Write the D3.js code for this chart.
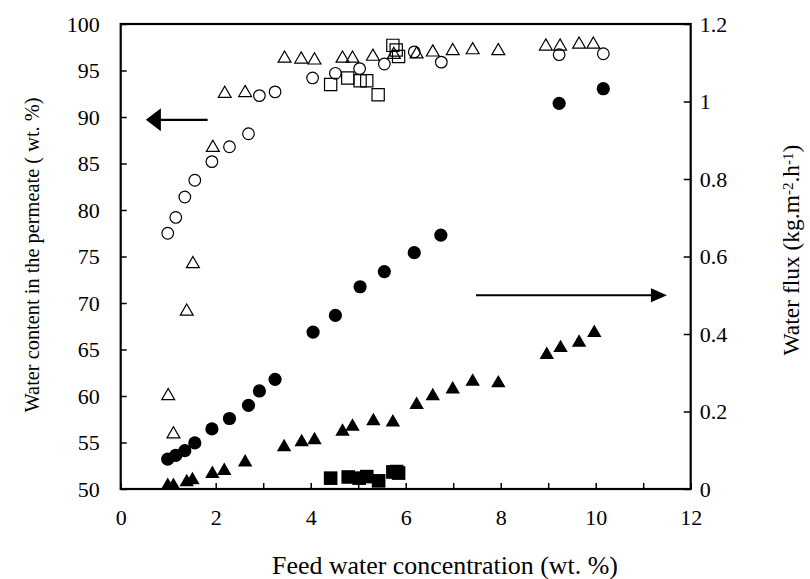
<!DOCTYPE html>
<html>
<head>
<meta charset="utf-8">
<script src="https://cdn.jsdelivr.net/npm/d3@7"></script>
<style>
  body { margin: 0; background: #fff; }
  svg text { font-family: 'Liberation Serif', 'DejaVu Serif', serif; }
</style>
</head>
<body>
<svg id="chart" width="810" height="579"></svg>
<script>
// water content (left axis, wt. %)
const openCircleX = [0.99, 1.16, 1.35, 1.56, 1.92, 2.29, 2.69, 2.92, 3.25, 4.04, 4.52, 5.03, 5.55, 6.18, 6.75, 9.23, 10.16];
const openCircleY = [77.5, 79.2, 81.4, 83.2, 85.2, 86.8, 88.2, 92.3, 92.7, 94.2, 94.7, 95.2, 95.7, 97.0, 95.9, 96.7, 96.8];

const openTriX = [1.0, 1.11, 1.39, 1.52, 1.94, 2.19, 2.62, 3.45, 3.8, 4.08, 4.67, 4.88, 5.31, 5.75, 6.23, 6.57, 6.99, 7.41, 7.95, 8.95, 9.25, 9.65, 9.95];
const openTriY = [60.0, 55.9, 69.1, 74.2, 86.7, 92.5, 92.6, 96.3, 96.2, 96.1, 96.3, 96.3, 96.5, 96.7, 96.75, 96.96, 97.1, 97.2, 97.1, 97.6, 97.6, 97.8, 97.8];

const openSquareX = [4.42, 4.78, 5.04, 5.18, 5.42, 5.73, 5.8, 5.85];
const openSquareY = [93.5, 94.2, 93.9, 93.9, 92.4, 97.7, 97.2, 96.5];

// water flux (right axis, kg.m-2.h-1)
const fullCircleX = [0.99, 1.16, 1.35, 1.56, 1.92, 2.29, 2.69, 2.92, 3.25, 4.05, 4.52, 5.04, 5.55, 6.18, 6.74, 9.23, 10.16];
const fullCircleY = [0.077, 0.087, 0.099, 0.119, 0.155, 0.182, 0.216, 0.253, 0.283, 0.405, 0.448, 0.522, 0.561, 0.61, 0.655, 0.995, 1.033];

const fullTriX = [0.99, 1.11, 1.39, 1.51, 1.93, 2.18, 2.62, 3.44, 3.81, 4.08, 4.67, 4.88, 5.32, 5.73, 6.23, 6.57, 6.99, 7.41, 7.95, 8.97, 9.26, 9.65, 9.97];
const fullTriY = [0.008, 0.008, 0.018, 0.023, 0.039, 0.047, 0.069, 0.108, 0.121, 0.126, 0.148, 0.161, 0.175, 0.172, 0.217, 0.24, 0.257, 0.277, 0.273, 0.346, 0.364, 0.378, 0.403];

const fullSquareX = [4.42, 4.79, 5.02, 5.18, 5.43, 5.73, 5.81, 5.85];
const fullSquareY = [0.028, 0.031, 0.028, 0.032, 0.021, 0.044, 0.045, 0.041];

const xTicks = [0, 1, 2, 3, 4, 5, 6, 7, 8, 9, 10, 11, 12];
const leftTicks = [50, 55, 60, 65, 70, 75, 80, 85, 90, 95, 100];
const rightTicks = [0, 0.2, 0.4, 0.6, 0.8, 1.0, 1.2];

const xTitle = 'Feed water concentration (wt. %)';
const leftTitle = 'Water content in the permeate ( wt. %)';

const tickFont = 22;
const titleFont = 22;

const margin = { top: 24, right: 119.3, bottom: 90, left: 120.7 };
const svg = d3.select('#chart');
const width = 810 - margin.left - margin.right;
const height = 579 - margin.top - margin.bottom;

const xScale = d3.scaleLinear().domain([0, 12]).range([0, width]);
const yLeft = d3.scaleLinear().domain([50, 100]).range([height, 0]);
const yRight = d3.scaleLinear().domain([0, 1.2]).range([height, 0]);

const g = svg.append('g').attr('transform', `translate(${margin.left},${margin.top})`);

// axes, ticks pointing inward
const xAxis = d3.axisBottom(xScale)
  .tickValues(xTicks)
  .tickFormat((d) => (d % 2 === 0 ? d : ''))
  .tickSizeInner(-6)
  .tickSizeOuter(0)
  .tickPadding(20);
const lAxis = d3.axisLeft(yLeft).tickValues(leftTicks).tickSizeInner(-6).tickSizeOuter(0).tickPadding(21);
const rAxis = d3.axisRight(yRight)
  .tickValues(rightTicks)
  .tickFormat((d) => d3.format('~g')(d))
  .tickSizeInner(-7)
  .tickSizeOuter(0)
  .tickPadding(9);

const gx = g.append('g').attr('transform', `translate(0,${height})`).call(xAxis);
const gl = g.append('g').call(lAxis);
const gr = g.append('g').attr('transform', `translate(${width},0)`).call(rAxis);

[gx, gl, gr].forEach((a) => {
  a.attr('font-family', null).attr('font-size', null);
  a.select('.domain').remove();
  a.selectAll('.tick line').attr('stroke', '#000').attr('stroke-width', 1.5);
  a.selectAll('.tick text')
    .attr('fill', '#000')
    .attr('font-size', tickFont);
});
gl.selectAll('.tick text').attr('dy', '0.34em');
gr.selectAll('.tick text').attr('dy', '0.34em');

g.append('rect')
  .attr('width', width)
  .attr('height', height)
  .attr('fill', 'none')
  .attr('stroke', '#000')
  .attr('stroke-width', 2.2);

// markers
const triOpen = d3.symbol().type(d3.symbolTriangle).size(72);
const triFull = d3.symbol().type(d3.symbolTriangle).size(90);
const sqOpen = d3.symbol().type(d3.symbolSquare).size(150);
const sqFull = d3.symbol().type(d3.symbolSquare).size(185);

const pairs = (xs, ys) => xs.map((x, i) => ({ x: x, y: ys[i] }));

g.append('g').selectAll('path')
  .data(pairs(openTriX, openTriY))
  .join('path')
  .attr('d', triOpen)
  .attr('transform', (d) => `translate(${xScale(d.x)},${yLeft(d.y)})`)
  .attr('fill', 'none')
  .attr('stroke', '#000')
  .attr('stroke-width', 1.2);

g.append('g').selectAll('path')
  .data(pairs(openSquareX, openSquareY))
  .join('path')
  .attr('d', sqOpen)
  .attr('transform', (d) => `translate(${xScale(d.x)},${yLeft(d.y)})`)
  .attr('fill', 'none')
  .attr('stroke', '#000')
  .attr('stroke-width', 1.2);

g.append('g').selectAll('circle')
  .data(pairs(openCircleX, openCircleY))
  .join('circle')
  .attr('cx', (d) => xScale(d.x))
  .attr('cy', (d) => yLeft(d.y))
  .attr('r', 5.8)
  .attr('fill', 'none')
  .attr('stroke', '#000')
  .attr('stroke-width', 1.2);

g.append('g').selectAll('circle')
  .data(pairs(fullCircleX, fullCircleY))
  .join('circle')
  .attr('cx', (d) => xScale(d.x))
  .attr('cy', (d) => yRight(d.y))
  .attr('r', 6.6)
  .attr('fill', '#000');

g.append('g').selectAll('path')
  .data(pairs(fullTriX, fullTriY))
  .join('path')
  .attr('d', triFull)
  .attr('transform', (d) => `translate(${xScale(d.x)},${yRight(d.y)})`)
  .attr('fill', '#000');

g.append('g').selectAll('path')
  .data(pairs(fullSquareX, fullSquareY))
  .join('path')
  .attr('d', sqFull)
  .attr('transform', (d) => `translate(${xScale(d.x)},${yRight(d.y)})`)
  .attr('fill', '#000');

// arrows pointing to the axis each group belongs to
const leftArrowY = yLeft(89.7);
g.append('line')
  .attr('x1', xScale(1.83)).attr('x2', xScale(0.75))
  .attr('y1', leftArrowY).attr('y2', leftArrowY)
  .attr('stroke', '#000').attr('stroke-width', 2.2);
g.append('path')
  .attr('d', d3.line()([
    [xScale(0.53), leftArrowY],
    [xScale(0.53) + 15, leftArrowY - 11.5],
    [xScale(0.53) + 15, leftArrowY + 11.5]
  ]) + 'Z')
  .attr('fill', '#000');

const rightArrowY = yRight(0.5);
g.append('line')
  .attr('x1', xScale(7.48)).attr('x2', xScale(11.25))
  .attr('y1', rightArrowY).attr('y2', rightArrowY)
  .attr('stroke', '#000').attr('stroke-width', 2.2);
g.append('path')
  .attr('d', d3.line()([
    [xScale(11.5), rightArrowY],
    [xScale(11.5) - 16, rightArrowY - 7],
    [xScale(11.5) - 16, rightArrowY + 7]
  ]) + 'Z')
  .attr('fill', '#000');

// titles, font size picked so each spans the same length as in the figure
function fitText(sel, target) {
  const w = sel.node().getComputedTextLength();
  sel.attr('font-size', titleFont * target / w);
}

const xt = svg.append('text')
  .attr('x', 445)
  .attr('y', 574)
  .attr('text-anchor', 'middle')
  .attr('font-size', titleFont)
  .text(xTitle);
fitText(xt, 346);

const lt = svg.append('text')
  .attr('transform', 'translate(39,255) rotate(-90)')
  .attr('text-anchor', 'middle')
  .attr('font-size', titleFont)
  .text(leftTitle);
fitText(lt, 315);

const rt = svg.append('text')
  .attr('transform', 'translate(799,250) rotate(-90)')
  .attr('text-anchor', 'middle')
  .attr('font-size', titleFont);
rt.append('tspan').text('Water flux (kg.m');
rt.append('tspan').attr('dy', '-0.38em').attr('font-size', '0.64em').text('-2');
rt.append('tspan').attr('dy', '0.24em').text('.h');
rt.append('tspan').attr('dy', '-0.38em').attr('font-size', '0.64em').text('-1');
rt.append('tspan').attr('dy', '0.24em').text(')');
fitText(rt, 211);
</script>
</body>
</html>
